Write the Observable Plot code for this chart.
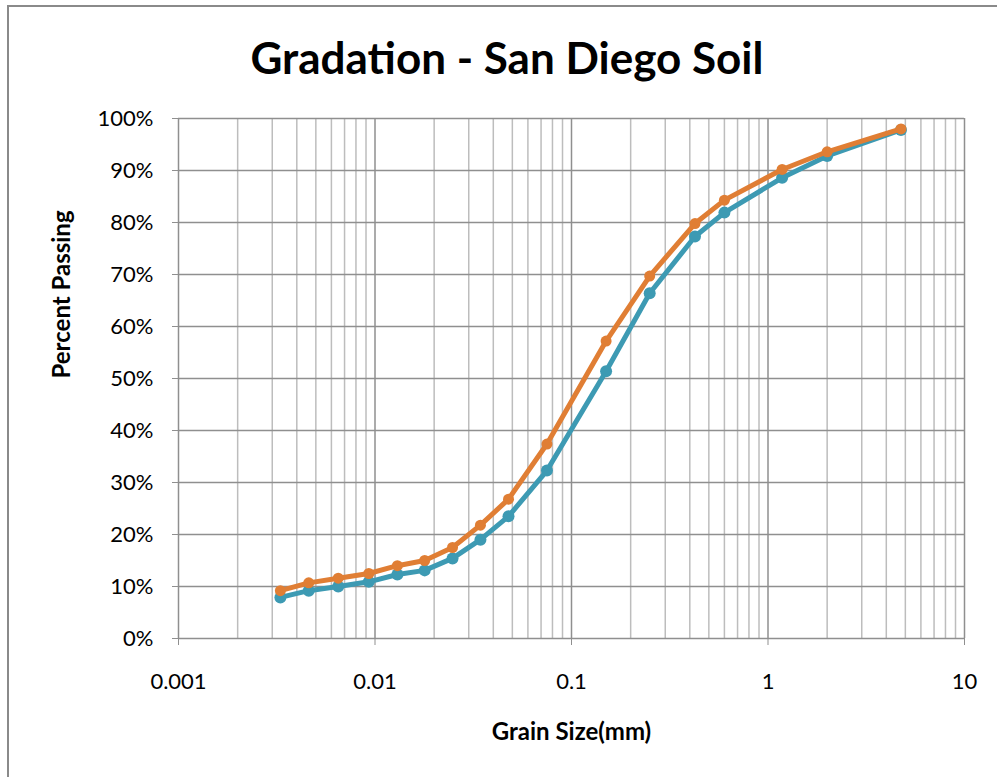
<!DOCTYPE html>
<html>
<head>
<meta charset="utf-8">
<script src="https://cdn.jsdelivr.net/npm/d3@7"></script>
<script src="https://cdn.jsdelivr.net/npm/@observablehq/plot@0.6"></script>
<style>
  body { margin: 0; background: #fff; font-family: Lato, "Open Sans", sans-serif; }
  #page { position: relative; width: 997px; height: 777px; overflow: hidden; }
  #border { position: absolute; left: 7px; top: 5px; width: 1200px; height: 1000px; border: 2px solid #8a8a8a; }
  #title { position: absolute; left: 0; top: 31px; width: 1014px; text-align: center;
           font-weight: bold; font-size: 44px; line-height: 52px; color: #000; }
  #chart { position: absolute; left: 0; top: 0; }
</style>
</head>
<body>
<div id="page">
  <div id="border"></div>
  <div id="chart"></div>
  <div id="title">Gradation - San Diego Soil</div>
</div>
<script>
// Grain sizes (mm): hydrometer readings followed by sieve openings
const grainSize = [0.0033, 0.0046, 0.0065, 0.0093, 0.0130, 0.0179, 0.0248, 0.0344, 0.0478,
                   0.075, 0.15, 0.25, 0.425, 0.6, 1.18, 2.0, 4.75];
// Percent passing for the two tests
const passingTeal = [7.9, 9.2, 10.0, 10.9, 12.3, 13.1, 15.4, 19.0, 23.5,
                     32.3, 51.4, 66.4, 77.3, 81.9, 88.6, 92.8, 97.8];
const passingOrange = [9.2, 10.7, 11.6, 12.5, 14.0, 15.0, 17.5, 21.8, 26.8,
                       37.4, 57.2, 69.7, 79.8, 84.3, 90.2, 93.6, 98.0];

const decadeTicks = [0.001, 0.01, 0.1, 1, 10];
const minorTicks = decadeTicks.slice(0, -1).flatMap(d => [2, 3, 4, 5, 6, 7, 8, 9].map(k => +(d * k).toPrecision(3)));
const percentTicks = [0, 10, 20, 30, 40, 50, 60, 70, 80, 90, 100];

const teal = grainSize.map((s, i) => ({size: s, pct: passingTeal[i]}));
const orange = grainSize.map((s, i) => ({size: s, pct: passingOrange[i]}));

const TEAL = "#3d9ab3";
const ORANGE = "#e07e34";

const chart = Plot.plot({
  width: 997,
  height: 777,
  marginLeft: 178,
  marginRight: 33,
  marginTop: 118,
  marginBottom: 139,
  style: {fontFamily: "Lato, 'Open Sans', sans-serif", fontSize: "22px", color: "#000", background: "transparent"},
  x: {type: "log", domain: [0.001, 10]},
  y: {domain: [0, 100]},
  marks: [
    Plot.ruleX(minorTicks, {stroke: "#bdbdbd", strokeWidth: 1.5}),
    Plot.ruleX(decadeTicks, {stroke: "#8f8f8f", strokeWidth: 1.5}),
    Plot.ruleY(percentTicks, {stroke: "#8f8f8f", strokeWidth: 1.5}),
    Plot.axisY({ticks: percentTicks, tickFormat: d => d + "%", tickSize: 6, tickPadding: 19,
                stroke: "#8f8f8f", fontSize: 22, label: null}),
    Plot.axisX({ticks: decadeTicks, tickFormat: d => String(d), tickSize: 7, tickPadding: 28,
                stroke: "#8f8f8f", fontSize: 22, label: null}),
    Plot.line(teal, {x: "size", y: "pct", stroke: TEAL, strokeWidth: 5}),
    Plot.dot(teal, {x: "size", y: "pct", fill: TEAL, r: 6}),
    Plot.line(orange, {x: "size", y: "pct", stroke: ORANGE, strokeWidth: 5}),
    Plot.dot(orange, {x: "size", y: "pct", fill: ORANGE, r: 5.5}),
    Plot.text(["Grain Size(mm)"], {frameAnchor: "bottom", dy: 101, fontWeight: "bold", fontSize: 24}),
    Plot.text(["Percent Passing"], {frameAnchor: "left", dx: -116, rotate: -90, fontWeight: "bold", fontSize: 24})
  ]
});
document.getElementById("chart").appendChild(chart);
</script>
</body>
</html>
